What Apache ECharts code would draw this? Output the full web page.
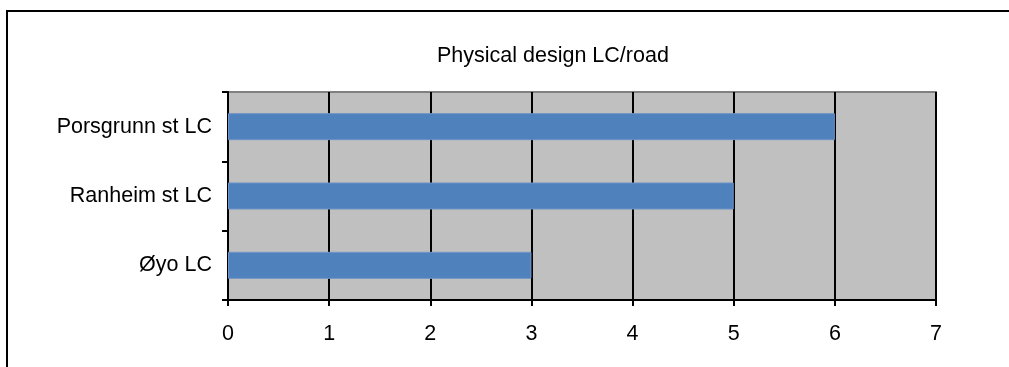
<!DOCTYPE html>
<html>
<head>
<meta charset="utf-8">
<script src="https://cdn.jsdelivr.net/npm/echarts@6/dist/echarts.min.js"></script>
<style>
  html, body { margin: 0; padding: 0; background: #ffffff; }
  #frame { position: absolute; left: 6px; top: 10px; width: 1100px; height: 500px;
           border-left: 2px solid #000; border-top: 2px solid #000; box-sizing: border-box; }
  #chart { position: absolute; left: 0; top: 0; width: 1009px; height: 367px; }
</style>
</head>
<body>
<div id="frame"></div>
<div id="chart"></div>
<script>
// Crossings, bottom-to-top as drawn on the category axis
const categories = ['Øyo LC', 'Ranheim st LC', 'Porsgrunn st LC'];
const values = [3, 5, 6];
const xTicks = [0, 1, 2, 3, 4, 5, 6, 7];
const titleText = 'Physical design LC/road';

const chart = echarts.init(document.getElementById('chart'), null, { renderer: 'canvas' });
const font = 'Liberation Sans, Arial, sans-serif';

chart.setOption({
  animation: false,
  title: {
    text: titleText,
    left: 432, top: 40,
    textStyle: { fontFamily: font, fontSize: 21.5, fontWeight: 'normal', color: '#000' }
  },
  grid: {
    left: 228, top: 92, right: 73, bottom: 67,
    show: true, backgroundColor: '#c0c0c0', borderColor: '#808080', borderWidth: 2
  },
  xAxis: {
    type: 'value',
    min: xTicks[0], max: xTicks[xTicks.length - 1], interval: 1,
    axisLine: { show: true, lineStyle: { color: '#000', width: 2 } },
    axisTick: { show: true, length: 6, lineStyle: { color: '#000', width: 2 } },
    splitLine: { show: true, lineStyle: { color: '#000', width: 2 } },
    axisLabel: { fontFamily: font, fontSize: 21.5, color: '#000', margin: 23 }
  },
  yAxis: {
    type: 'category',
    data: categories,
    axisLine: { show: true, lineStyle: { color: '#000', width: 2 } },
    axisTick: { show: true, length: 6, alignWithLabel: false, lineStyle: { color: '#000', width: 2 } },
    axisLabel: { fontFamily: font, fontSize: 21.5, color: '#000', margin: 16 }
  },
  series: [{
    type: 'bar',
    data: values,
    barCategoryGap: '61%',
    itemStyle: { color: '#4f81bd', borderColor: '#6f93c6', borderWidth: 1 }
  }]
});
</script>
</body>
</html>
